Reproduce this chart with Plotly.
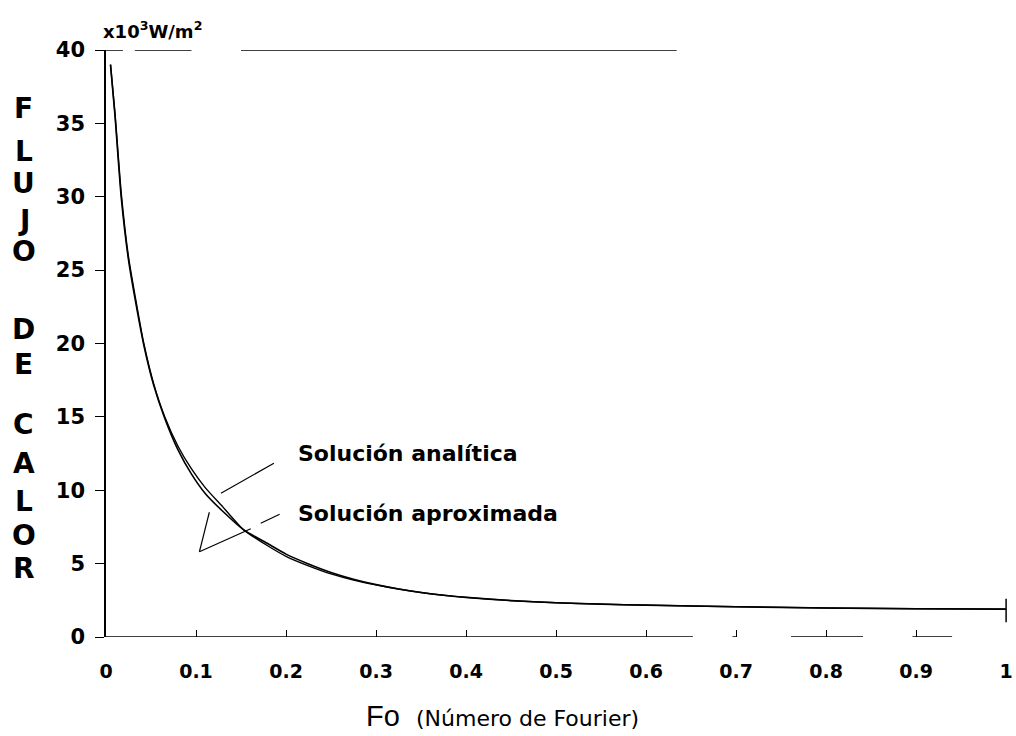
import plotly.graph_objects as go

# ---- data ----
fo = [0.005, 0.010, 0.017, 0.025, 0.033, 0.042, 0.053, 0.065, 0.080, 0.095,
      0.110, 0.130, 0.153, 0.180, 0.200, 0.225, 0.250, 0.275, 0.300, 0.325,
      0.350, 0.375, 0.400, 0.450, 0.500, 0.550, 0.600, 0.700, 0.800, 0.900, 1.000]
flujo_analitica = [39.0, 35.7, 30.2, 25.9, 23.0, 20.0, 17.25, 15.05, 13.0, 11.45,
                   10.2, 8.85, 7.3, 6.2, 5.5, 4.85, 4.3, 3.88, 3.55, 3.27,
                   3.03, 2.84, 2.7, 2.48, 2.33, 2.24, 2.17, 2.06, 1.98, 1.93, 1.9]
flujo_aproximada = [39.0, 35.5, 29.9, 25.7, 22.8, 19.9, 17.15, 14.95, 12.75, 11.1,
                    9.8, 8.55, 7.3, 6.35, 5.65, 4.98, 4.4, 3.94, 3.57, 3.27,
                    3.03, 2.84, 2.7, 2.48, 2.33, 2.24, 2.17, 2.06, 1.98, 1.93, 1.9]

x_ticks = [0, 0.1, 0.2, 0.3, 0.4, 0.5, 0.6, 0.7, 0.8, 0.9, 1]
x_ticklabels = ["0", "0.1", "0.2", "0.3", "0.4", "0.5", "0.6", "0.7", "0.8", "0.9", "1"]
y_ticks = [0, 5, 10, 15, 20, 25, 30, 35, 40]
y_ticklabels = ["0", "5", "10", "15", "20", "25", "30", "35", "40"]

label_analitica = "Solución analítica"
label_aproximada = "Solución aproximada"
y_title_letters = ["F", "L", "U", "J", "O", "D", "E", "C", "A", "L", "O", "R"]

# ---- layout geometry ----
W, H = 1016, 736
ML, MR, MT, MB = 106, 3, 50, 99
PW, PH = W - ML - MR, H - MT - MB


def px_x(p):
    return (p - ML) / PW


def px_y(p):
    return (H - MB - p) / PH


fig = go.Figure()
fig.add_trace(go.Scatter(x=fo, y=flujo_aproximada, mode="lines",
                         line=dict(color="black", width=1.6, shape="spline", smoothing=0.6),
                         name=label_aproximada, showlegend=False))
fig.add_trace(go.Scatter(x=fo, y=flujo_analitica, mode="lines",
                         line=dict(color="black", width=1.4, shape="spline", smoothing=0.6),
                         name=label_analitica, showlegend=False))

shapes = []
line_style = dict(color="black", width=1.5)
# broken frame line at top (y = 40)
for x0, x1 in [(-0.0099, 0.0188), (0.032, 0.095), (0.150, 0.634)]:
    shapes.append(dict(type="line", xref="x", yref="y", x0=x0, x1=x1, y0=40, y1=40,
                       line=line_style, layer="above"))
# broken bottom axis line (y = 0)
for x0, x1 in [(-0.009, 0.652), (0.696, 0.700), (0.761, 0.841), (0.896, 0.940)]:
    shapes.append(dict(type="line", xref="x", yref="y", x0=x0, x1=x1, y0=0, y1=0,
                       line=line_style, layer="above"))
# small vertical mark at Fo = 1
shapes.append(dict(type="line", xref="x", yref="y", x0=1, x1=1, y0=1.0, y1=2.6,
                   line=line_style, layer="above"))
# pointer lines
pointer_style = dict(color="black", width=1.2)
for (x0, y0, x1, y1) in [
    (0.1865, 11.84, 0.1277, 9.79),   # to analitica
    (0.1929, 8.36, 0.1719, 7.75),    # to aproximada
    (0.1038, 5.81, 0.1148, 8.50),    # V left arm
    (0.1038, 5.81, 0.1608, 7.38),    # V right arm
]:
    shapes.append(dict(type="line", xref="x", yref="y", x0=x0, x1=x1, y0=y0, y1=y1,
                       line=pointer_style))

annotations = []
label_font = dict(family="DejaVu Sans", size=22, color="black", weight="bold")
annotations.append(dict(x=px_x(297), y=px_y(453), xref="paper", yref="paper",
                        text=label_analitica, showarrow=False, xanchor="left",
                        yanchor="middle", font=label_font))
annotations.append(dict(x=px_x(297), y=px_y(513), xref="paper", yref="paper",
                        text=label_aproximada, showarrow=False, xanchor="left",
                        yanchor="middle", font=label_font))
# units
annotations.append(dict(x=px_x(101), y=px_y(30), xref="paper", yref="paper",
                        text="x10<sup>3</sup>W/m<sup>2</sup>", showarrow=False,
                        xanchor="left", yanchor="middle",
                        font=dict(family="DejaVu Sans", size=18, color="black", weight="bold")))
# x title
annotations.append(dict(x=px_x(366), y=px_y(716), xref="paper", yref="paper",
                        text="Fo", showarrow=False, xanchor="left", yanchor="middle",
                        font=dict(family="Liberation Sans", size=29, color="black")))
annotations.append(dict(x=px_x(416), y=px_y(718), xref="paper", yref="paper",
                        text="(Número de Fourier)", showarrow=False, xanchor="left",
                        yanchor="middle",
                        font=dict(family="DejaVu Sans", size=22, color="black")))
# stacked y title letters
letter_py = [109, 151, 184, 220, 251, 329, 364, 424, 463, 501, 535, 568]
for ch, py in zip(y_title_letters, letter_py):
    annotations.append(dict(x=px_x(23), y=px_y(py), xref="paper", yref="paper",
                            text=ch, showarrow=False, xanchor="center", yanchor="middle",
                            font=dict(family="DejaVu Sans", size=28, color="black",
                                      weight="bold")))

fig.update_layout(
    width=W, height=H,
    margin=dict(l=ML, r=MR, t=MT, b=MB, pad=0),
    paper_bgcolor="white", plot_bgcolor="white",
    shapes=shapes, annotations=annotations,
    showlegend=False,
)
fig.update_xaxes(range=[0, 1.001], tickvals=x_ticks, ticktext=x_ticklabels,
                 showgrid=False, zeroline=False, showline=False,
                 ticks="inside", ticklen=7, tickwidth=1.3, tickcolor="black",
                 ticklabelstandoff=21, ticklabeloverflow="allow",
                 tickfont=dict(family="DejaVu Sans", size=19, color="black", weight="bold"))
fig.update_yaxes(range=[0, 40], tickvals=y_ticks, ticktext=y_ticklabels,
                 showgrid=False, zeroline=False, showline=True, linecolor="black",
                 linewidth=1.5, ticks="outside", ticklen=9, tickwidth=1.3,
                 tickcolor="black", ticklabelstandoff=6,
                 tickfont=dict(family="DejaVu Sans", size=21, color="black", weight="bold"))

fig.write_html("out.html")
